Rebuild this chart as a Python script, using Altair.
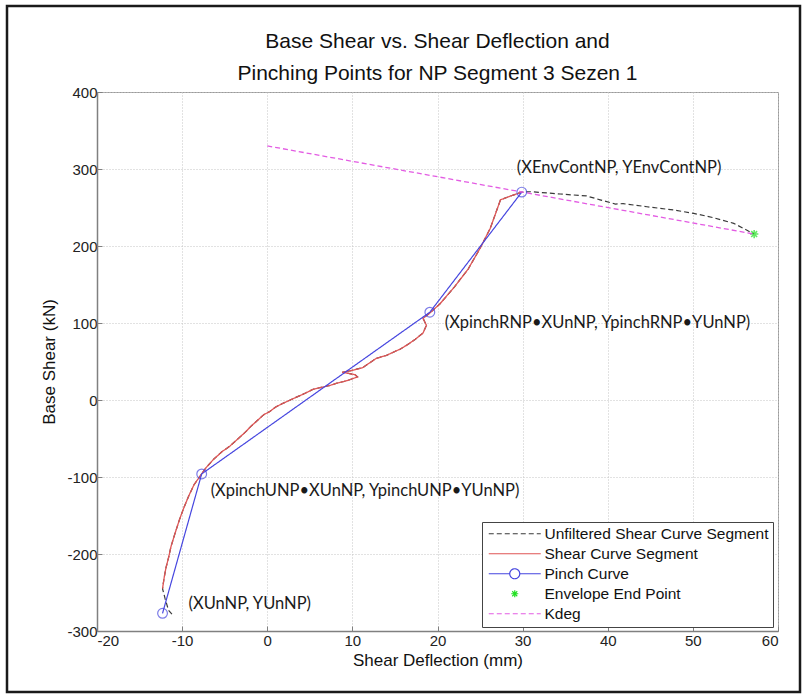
import altair as alt
import pandas as pd

# ---------------- data ----------------
series_names = ["Unfiltered Shear Curve Segment", "Shear Curve Segment", "Pinch Curve",
                "Envelope End Point", "Kdeg"]

shear_x = [-12.3, -12.1, -11.9, -11.6, -11.3, -10.8, -10.3, -9.8, -9.2, -8.6, -7.9, -7.2,
           -6.3, -5.3, -4.4, -3.5, -2.6, -1.9, -1.1, -0.4, 0.3, 1.0, 1.9, 2.7, 3.5, 4.5,
           5.4, 6.6, 7.4, 8.2, 9.0, 9.6, 10.6, 10.3, 8.8, 9.8, 11.2, 12.0, 12.8, 14.0,
           15.6, 16.5, 17.4, 18.3, 18.7, 18.3, 19.1, 20.3, 22.0, 23.6, 25.0, 26.2, 27.4,
           28.6, 29.9]
shear_y = [-245, -230, -218, -205, -190, -172, -155, -140, -124, -110, -99, -88,
           -77, -67, -60, -51, -42, -34, -26, -19, -15, -9, -4, 0, 4, 9,
           14, 17, 19, 22, 24, 26, 30, 33, 36, 38, 42, 48, 54, 58,
           66, 72, 79, 87, 97, 106, 113, 125, 147, 170, 197, 223, 260,
           265, 270]

unf_bottom_x = [-11.2, -11.6, -12.0]
unf_bottom_y = [-278, -273, -258]
unf_top_x = [31.1, 34.4, 37.5, 39.1, 40.9, 41.8, 44.6, 47.7, 50.1, 52.4, 54.8, 56.3, 57.2]
unf_top_y = [270.5, 267.5, 265, 260, 254.5, 255, 251, 246.8, 242.4, 236.8, 229.4, 220.8, 215.5]

pinch_x = [-12.3, -7.7, 19.1, 29.9]
pinch_y = [-277, -96, 114, 270]
pinch_labels = ["(XUnNP, YUnNP)",
                "(XpinchUNP\u2022XUnNP, YpinchUNP\u2022YUnNP)",
                "(XpinchRNP\u2022XUnNP, YpinchRNP\u2022YUnNP)",
                "(XEnvContNP, YEnvContNP)"]

env_x = [57.2]
env_y = [215.5]

kdeg_x = [0.0, 57.2]
kdeg_y = [330.0, 215.5]

x_ticks = [-20, -10, 0, 10, 20, 30, 40, 50, 60]
y_ticks = [-300, -200, -100, 0, 100, 200, 300, 400]

# ---------------- styles ----------------
colors = ["#3a3a3a", "#e05555", "#4646df", "#22e022", "#e35ce3"]
dashes = [[5, 3], [1, 0], [1, 0], [1, 0], [5, 3]]
ASTER = "M-1,0L1,0M0,-1L0,1M-0.7,-0.7L0.7,0.7M-0.7,0.7L0.7,-0.7"
legend_shapes = [
    "M-5.2,0L5.2,0",
    "M-5.2,0L5.2,0",
    "M-5.2,0L-1,0M1,0L5.2,0M1,0A1,1,0,1,1,-1,0A1,1,0,1,1,1,0Z",
    "M-0.7,0L0.7,0M0,-0.7L0,0.7M-0.5,-0.5L0.5,0.5M-0.5,0.5L0.5,-0.5",
    "M-5.2,0L5.2,0",
]
FONT = "Liberation Sans"


def frame(xs, ys, name):
    return pd.DataFrame({"x": xs, "y": ys, "i": list(range(len(xs))), "series": name})


shear_df = frame(shear_x, shear_y, series_names[1])
unf_df = frame(unf_bottom_x + shear_x + unf_top_x, unf_bottom_y + shear_y + unf_top_y,
               series_names[0])
pinch_df = frame(pinch_x, pinch_y, series_names[2])
pinch_df["label"] = pinch_labels
env_df = frame(env_x, env_y, series_names[3])
kdeg_df = frame(kdeg_x, kdeg_y, series_names[4])

xscale = alt.Scale(domain=[x_ticks[0], x_ticks[-1]], nice=False)
yscale = alt.Scale(domain=[y_ticks[0], y_ticks[-1]], nice=False)
color_scale = alt.Scale(domain=series_names, range=colors)
dash_scale = alt.Scale(domain=series_names, range=dashes)
shape_scale = alt.Scale(domain=series_names, range=legend_shapes)

LBL = "'' + datum.value"
X = alt.X("x:Q", scale=xscale,
          axis=alt.Axis(values=x_ticks, title="Shear Deflection (mm)", labelExpr=LBL))
Y = alt.Y("y:Q", scale=yscale,
          axis=alt.Axis(values=y_ticks, title="Base Shear (kN)", labelExpr=LBL))
C = alt.Color("series:N", scale=color_scale, legend=alt.Legend(title=None))
D = alt.StrokeDash("series:N", scale=dash_scale, legend=alt.Legend(title=None))
O = alt.Order("i:Q")


def line_layer(df, width):
    return alt.Chart(df).mark_line(strokeWidth=width).encode(x=X, y=Y, color=C,
                                                              strokeDash=D, order=O)


unf_layer = line_layer(unf_df, 1.2)
shear_layer = line_layer(shear_df, 1.3)
pinch_line = line_layer(pinch_df, 1.2)
kdeg_layer = line_layer(kdeg_df, 1.3)

pinch_pts = alt.Chart(pinch_df).mark_point(shape="circle", size=95, filled=False,
                                           strokeWidth=1.2, color=colors[2]).encode(x=X, y=Y)
env_pts = alt.Chart(env_df).mark_point(shape=ASTER, size=70, filled=False,
                                       strokeWidth=1.6, color=colors[3]).encode(x=X, y=Y)

# invisible layer that carries the legend symbol shapes
legend_carrier = alt.Chart(pinch_df).mark_point(opacity=0, filled=False).encode(
    x=X, y=Y, color=C,
    shape=alt.Shape("series:N", scale=shape_scale, legend=alt.Legend(title=None)))

offsets = [(26, -9), (9, 17), (15, 11), (-5, -24)]
label_layers = []
for k, (dx, dy) in enumerate(offsets):
    label_layers.append(
        alt.Chart(pinch_df.iloc[[k]]).mark_text(align="left", baseline="middle", dx=dx, dy=dy,
                                                font="Lato", fontSize=16.5, color="#1a1a1a")
        .encode(x=X, y=Y, text="label:N"))

border = alt.Chart(alt.Data(values=[{}])).mark_rect(
    fill="transparent", stroke="#1a1a1a", strokeWidth=2.5).encode(
    x=alt.value(-90), x2=alt.value(703), y=alt.value(-86), y2=alt.value(600))

chart = alt.layer(
    unf_layer, shear_layer, pinch_line, pinch_pts, env_pts, kdeg_layer, legend_carrier,
    *label_layers, border
).properties(
    width=681, height=539,
    title=alt.TitleParams(
        text=["Base Shear vs. Shear Deflection and",
              "Pinching Points for NP Segment 3 Sezen 1"],
        font=FONT, fontSize=21, fontWeight="normal", color="#111",
        lineHeight=32, anchor="middle", offset=0, baseline="alphabetic", dy=96),
    autosize=alt.AutoSizeParams(type="none"),
    padding={"left": 97, "top": 92, "right": 29, "bottom": 67},
    background="white",
).configure_view(
    stroke="#9a9a9a", strokeWidth=1
).configure_axis(
    labelFont=FONT, labelFontSize=15, labelColor="#222",
    titleFont=FONT, titleFontSize=17, titleFontWeight="normal", titleColor="#111",
    domainColor="#808080", domainWidth=1.5,
    tickColor="#808080", tickSize={"expr": "-5"}, tickWidth=1,
    gridColor="#c4c4c4", gridDash=[1, 2], gridWidth=1,
).configure_axisX(
    labelPadding=7, titlePadding=4
).configure_axisY(
    labelPadding=5, titlePadding=8
).configure_legend(
    orient="none", legendX=385, legendY=430,
    strokeColor="#444", fillColor="white", padding=4, cornerRadius=0,
    symbolSize=100, symbolStrokeWidth=1.2, symbolOpacity=1, symbolOffset=21,
    labelFont=FONT, labelFontSize=15.5, labelColor="#111", labelOffset=22,
    rowPadding=3, labelLimit=400,
)

chart.save("out.html", embed_options={"renderer": "svg", "actions": False})
